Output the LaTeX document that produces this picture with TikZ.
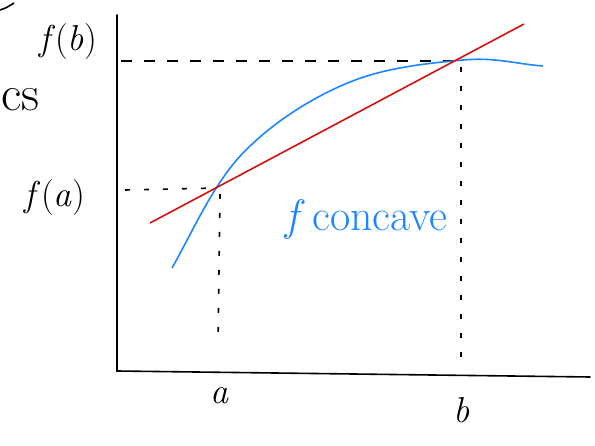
\documentclass[tikz,border=0pt]{standalone}
\usepackage{fontspec}
\usepackage{tikz}
\usetikzlibrary{positioning,calc}
\definecolor{curveblue}{HTML}{1A86FF}
\definecolor{chordred}{HTML}{D21010}
\tikzset{
  axis/.style     = {line width=1.6pt, line cap=round},
  guide/.style    = {line width=1.6pt, dash pattern=on 11pt off 12pt},
  sparse/.style   = {line width=1.6pt, dash pattern=on 5pt off 14pt},
  curve/.style    = {curveblue, line width=1.6pt},
  chord/.style    = {chordred, line width=1.6pt},
  lbl/.style      = {inner sep=1pt, font=\fontsize{36}{40}\selectfont},
  biglbl/.style   = {inner sep=1pt, font=\fontsize{44}{48}\selectfont},
}

\begin{document}
\begin{tikzpicture}[x=1pt, y=-1pt]
  \useasboundingbox (0,0) rectangle (595,446);
  % axes
  \coordinate (O) at (117,371);
  \coordinate (ytop) at (117,15);
  \coordinate (xend) at (590,377);
  \draw[axis] (ytop) -- (O) -- (xend);
  % points on the curve
  \coordinate (A) at (218,188);
  \coordinate (B) at (459,61);
  \coordinate (fa) at (125,190);
  \coordinate (fb) at (121,61);
  \coordinate (abase) at (218,345);
  \coordinate (bbase) at (461,365);
  % dashed guides
  \draw[guide] (fb) -- (B);
  \draw[sparse] (fa) -- (A);
  \draw[sparse] ($(A)+(2,6)$) -- (abase);
  \draw[sparse] ($(B)+(2,6)$) -- (bbase);
  % f concave
  \draw[curve] (172,268) .. controls (192,233) and (213,184) .. (243,153)
               .. controls (273,122) and (313,97) .. (350,82)
               .. controls (387,67) and (431,63) .. (463,60)
               .. controls (495,57) and (516,64) .. (543,66);
  % chord
  \draw[chord] (150,223) -- (524,24);
  % labels
  \node[lbl] (lfb) at (68,42) {\textit{f}(\textit{b})};
  \node[lbl] (lfa) at (55,198) {\textit{f}(\textit{a})};
  \node[lbl] (la) at (220,396) {\textit{a}};
  \node[lbl] (lb) at (462,410) {\textit{b}};
  \node[biglbl, text=curveblue, anchor=west] (lconc) at (284,220) {\textit{f}\,concave};
  \node[inner sep=1pt, font=\fontsize{50}{54}\selectfont, anchor=west] (lcs) at (0,100) {cs};
  \draw[line width=1.6pt] (0,10) .. controls (6,8) .. (14,3);
\end{tikzpicture}
\end{document}
